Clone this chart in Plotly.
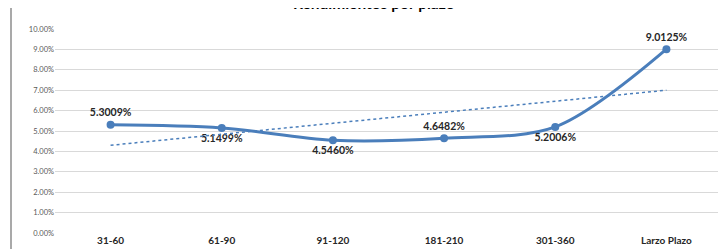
import plotly.graph_objects as go

categories = ["31-60", "61-90", "91-120", "181-210", "301-360", "Larzo Plazo"]
values = [5.3009, 5.1499, 4.5460, 4.6482, 5.2006, 9.0125]
label_pos = ["top center", "bottom center", "bottom center", "top center", "bottom center", "top center"]
trend_x = ["31-60", "Larzo Plazo"]
trend_y = [4.30, 7.00]
y_ticks = [0, 1, 2, 3, 4, 5, 6, 7, 8, 9, 10]
y_tick_labels = [f"{v:.2f}%" for v in y_ticks]

BLUE = "#4A7EBB"
FONT = "Lato, 'Open Sans', sans-serif"

fig = go.Figure()
fig.add_trace(go.Scatter(
    x=categories, y=values, mode="lines+markers+text",
    line=dict(color=BLUE, width=3, shape="spline", smoothing=0.9),
    marker=dict(color=BLUE, size=8),
    text=[f"<b>{v:.4f}%</b>" for v in values],
    textposition=label_pos,
    textfont=dict(family=FONT, size=10.5, color="#262626"),
    showlegend=False,
))
fig.add_trace(go.Scatter(
    x=trend_x, y=trend_y, mode="lines",
    line=dict(color=BLUE, width=1.5, dash="dot"),
    hoverinfo="skip", showlegend=False,
))

fig.add_annotation(
    text="<b>Rendimientos por plazo</b>", xref="paper", yref="paper",
    x=0.478, y=1 + 26 / 204, xanchor="center", yanchor="middle",
    showarrow=False, font=dict(family=FONT, size=15.5, color="#000000"),
)
fig.add_shape(type="line", xref="paper", yref="paper",
              x0=-44 / 667, x1=-44 / 667, y0=-0.3, y1=1.3,
              line=dict(color="#8C8C8C", width=1.5))

fig.update_layout(
    width=726, height=249,
    margin=dict(l=47, r=12, t=21, b=24),
    paper_bgcolor="white", plot_bgcolor="white",
    font=dict(family=FONT),
    xaxis=dict(
        type="category", categoryorder="array", categoryarray=categories,
        range=[-0.5, 5.5], showgrid=False, zeroline=False,
        showline=False, ticks="", tickfont=dict(family=FONT, size=10, color="#262626"),
        tickvals=categories, ticktext=[f"<b>{c}</b>" for c in categories],
    ),
    yaxis=dict(
        range=[0, 10], tickvals=y_ticks, ticktext=y_tick_labels,
        showgrid=True, gridcolor="#D9D9D9", gridwidth=1, zeroline=False,
        showline=False, ticks="", tickfont=dict(family=FONT, size=7.5, color="#595959"),
    ),
)

fig.write_html("out.html")
